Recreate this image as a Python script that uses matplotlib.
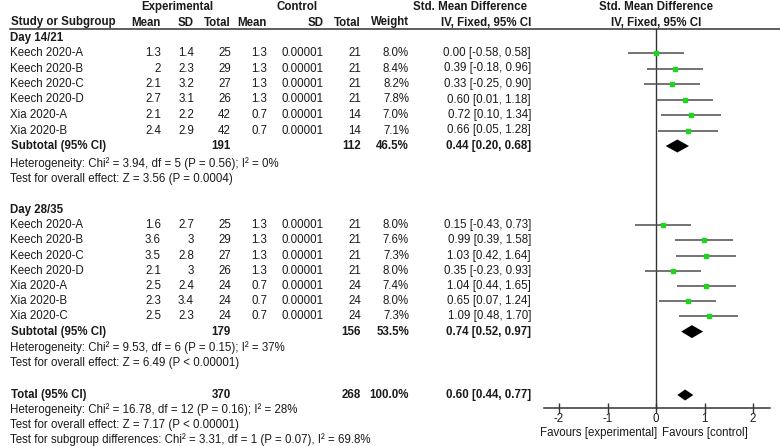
import numpy as np
import matplotlib
matplotlib.use("Agg")
import matplotlib.pyplot as plt

plt.rcParams['font.family'] = ['Liberation Sans', 'DejaVu Sans']
plt.rcParams['axes.unicode_minus'] = False

# ---- data -------------------------------------------------------------
names1 = ["Keech 2020-A", "Keech 2020-B", "Keech 2020-C", "Keech 2020-D", "Xia 2020-A", "Xia 2020-B"]
exp_mean1 = [1.3, 2, 2.1, 2.7, 2.1, 2.4]
exp_sd1 = [1.4, 2.3, 3.2, 3.1, 2.2, 2.9]
exp_n1 = [25, 29, 27, 26, 42, 42]
ctl_mean1 = [1.3, 1.3, 1.3, 1.3, 0.7, 0.7]
ctl_sd1 = [0.00001] * 6
ctl_n1 = [21, 21, 21, 21, 14, 14]
weight1 = [8.0, 8.4, 8.2, 7.8, 7.0, 7.1]
smd1 = [0.00, 0.39, 0.33, 0.60, 0.72, 0.66]
lo1 = [-0.58, -0.18, -0.25, 0.01, 0.10, 0.05]
hi1 = [0.58, 0.96, 0.90, 1.18, 1.34, 1.28]
sub1 = dict(exp_n=191, ctl_n=112, weight=46.5, smd=0.44, lo=0.20, hi=0.68)
het1 = "Heterogeneity: Chi² = 3.94, df = 5 (P = 0.56); I² = 0%"
test1 = "Test for overall effect: Z = 3.56 (P = 0.0004)"

names2 = ["Keech 2020-A", "Keech 2020-B", "Keech 2020-C", "Keech 2020-D", "Xia 2020-A", "Xia 2020-B", "Xia 2020-C"]
exp_mean2 = [1.6, 3.6, 3.5, 2.1, 2.5, 2.3, 2.5]
exp_sd2 = [2.7, 3, 2.8, 3, 2.4, 3.4, 2.3]
exp_n2 = [25, 29, 27, 26, 24, 24, 24]
ctl_mean2 = [1.3, 1.3, 1.3, 1.3, 0.7, 0.7, 0.7]
ctl_sd2 = [0.00001] * 7
ctl_n2 = [21, 21, 21, 21, 24, 24, 24]
weight2 = [8.0, 7.6, 7.3, 8.0, 7.4, 8.0, 7.3]
smd2 = [0.15, 0.99, 1.03, 0.35, 1.04, 0.65, 1.09]
lo2 = [-0.43, 0.39, 0.42, -0.23, 0.44, 0.07, 0.48]
hi2 = [0.73, 1.58, 1.64, 0.93, 1.65, 1.24, 1.70]
sub2 = dict(exp_n=179, ctl_n=156, weight=53.5, smd=0.74, lo=0.52, hi=0.97)
het2 = "Heterogeneity: Chi² = 9.53, df = 6 (P = 0.15); I² = 37%"
test2 = "Test for overall effect: Z = 6.49 (P < 0.00001)"

total = dict(exp_n=370, ctl_n=268, weight=100.0, smd=0.60, lo=0.44, hi=0.77)
total_notes = ["Heterogeneity: Chi² = 16.78, df = 12 (P = 0.16); I² = 28%",
               "Test for overall effect: Z = 7.17 (P < 0.00001)",
               "Test for subgroup differences: Chi² = 3.31, df = 1 (P = 0.07), I² = 69.8%"]

xticks = [-2, -1, 0, 1, 2]

# ---- layout (pixel coords) -------------------------------------------
W, H = 780, 446
FS = 8.3
TC = '#1a1a1a'
col_x = dict(name=10, em=161, esd=194, en=231, cm=267, csd=323, cn=361, w=409, ci=531)

fig = plt.figure(figsize=(W / 100, H / 100), dpi=100)
ax = fig.add_axes([0, 0, 1, 1])
ax.set_xlim(0, W)
ax.set_ylim(H, 0)
ax.axis('off')

# forest panel: x=0 at pixel 656, 48.5 px per unit, axis from 544 to 770
px0, pxl, pxr, unit = 656, 544, 770, 48.5
fx = fig.add_axes([pxl / W, 0, (pxr - pxl) / W, 1])
fx.set_xlim(-(px0 - pxl) / unit, (pxr - px0) / unit)
fx.set_ylim(H, 0)
fx.patch.set_visible(False)
for s in ['left', 'right', 'top']:
    fx.spines[s].set_visible(False)
axis_y = 407.5
fx.spines['bottom'].set_position(('data', axis_y))
fx.spines['bottom'].set_color('#333333')
fx.spines['bottom'].set_linewidth(1.1)
fx.set_yticks([])
fx.set_xticks(xticks)
fx.set_xticklabels([str(t) for t in xticks])
fx.tick_params(axis='x', direction='inout', length=7, width=1, pad=0.5,
               labelsize=FS, colors='#333333', labelcolor=TC)


def fmt(v):
    return np.format_float_positional(v, trim='-')


def txt(x, y, s, ha='right', bold=False):
    ax.text(x, y, s, ha=ha, va='center', fontsize=FS, color=TC,
            fontweight='bold' if bold else 'normal')


# headers
txt(177, 7, "Experimental", ha='center', bold=True)
txt(297, 7, "Control", ha='center', bold=True)
txt(527, 7, "Std. Mean Difference", ha='right', bold=True)
txt(px0, 7, "Std. Mean Difference", ha='center', bold=True)
hy = 22.5
txt(11, hy, "Study or Subgroup", ha='left', bold=True)
for key, lab in [('em', 'Mean'), ('esd', 'SD'), ('en', 'Total'), ('cm', 'Mean'),
                 ('csd', 'SD'), ('cn', 'Total'), ('w', 'Weight'), ('ci', 'IV, Fixed, 95% CI')]:
    txt(col_x[key] + (1 if key == 'csd' else 0), hy, lab, bold=True)
txt(px0, hy, "IV, Fixed, 95% CI", ha='center', bold=True)
ax.plot([10, W], [28.5, 28.5], color='#333333', lw=1.1)
fx.plot([0, 0], [28.5, axis_y], color='#333333', lw=1.0)


def summary_row(y, label, d, h):
    txt(11, y, label, ha='left', bold=True)
    txt(col_x['en'], y, str(d['exp_n']), bold=True)
    txt(col_x['cn'], y, str(d['ctl_n']), bold=True)
    txt(col_x['w'], y, "%.1f%%" % d['weight'], bold=True)
    txt(col_x['ci'], y, "%.2f [%.2f, %.2f]" % (d['smd'], d['lo'], d['hi']), bold=True)
    fx.fill([d['lo'], d['smd'], d['hi'], d['smd']], [y, y - h, y, y + h],
            color='black', lw=0)


def group(y0, step, title, names, em, esd, en, cm, csd, cn, w, smd, lo, hi, sub, het, test, het_gap):
    txt(10, y0, title, ha='left', bold=True)
    ys = y0 + step * (np.arange(len(names)) + 1)
    for i, y in enumerate(ys):
        txt(col_x['name'], y, names[i], ha='left')
        txt(col_x['em'], y, fmt(em[i]))
        txt(col_x['esd'], y, fmt(esd[i]))
        txt(col_x['en'], y, str(en[i]))
        txt(col_x['cm'], y, fmt(cm[i]))
        txt(col_x['csd'], y, fmt(csd[i]))
        txt(col_x['cn'], y, str(cn[i]))
        txt(col_x['w'], y, "%.1f%%" % w[i])
        txt(col_x['ci'], y, "%.2f [%.2f, %.2f]" % (smd[i], lo[i], hi[i]))
    fx.hlines(ys, lo, hi, color='#4d4d4d', lw=1.1)
    for i, y in enumerate(ys):
        fx.plot(smd[i], y, 's', color='#1fd41f', mec='#1fd41f',
                ms=2.8 * np.sqrt(w[i] / 8.0))
    ysub = ys[-1] + step
    summary_row(ysub, "Subtotal (95% CI)", sub, 6.5)
    txt(10, ysub + het_gap, het, ha='left')
    txt(10, ysub + het_gap + 15, test, ha='left')


group(37.5, 15.5, "Day 14/21", names1, exp_mean1, exp_sd1, exp_n1, ctl_mean1, ctl_sd1,
      ctl_n1, weight1, smd1, lo1, hi1, sub1, het1, test1, 18)
group(210, 15.2, "Day 28/35", names2, exp_mean2, exp_sd2, exp_n2, ctl_mean2, ctl_sd2,
      ctl_n2, weight2, smd2, lo2, hi2, sub2, het2, test2, 16)

ty = 395
summary_row(ty, "Total (95% CI)", total, 5.5)
for i, s in enumerate(total_notes):
    txt(10, ty + 15 * (i + 1), s, ha='left')

txt(657.5, 433, "Favours [experimental]", ha='right')
txt(662, 433, "Favours [control]", ha='left')

fig.savefig("out.png", dpi=100)
